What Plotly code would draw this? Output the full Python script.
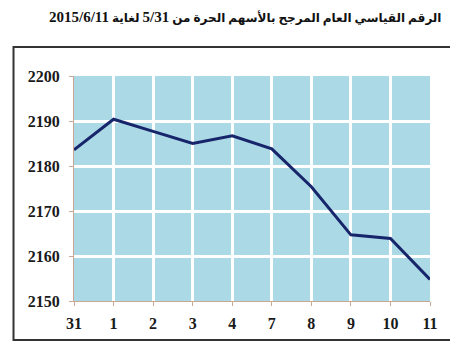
import plotly.graph_objects as go

days = ["31", "1", "2", "3", "4", "7", "8", "9", "10", "11"]
index_values = [2183.6, 2190.4, 2187.7, 2185.0, 2186.7, 2183.8, 2175.4, 2164.7, 2163.9, 2154.8]
y_ticks = [2150, 2160, 2170, 2180, 2190, 2200]
title_part1 = "الرقم القياسي العام المرجح بالأسهم الحرة من"
title_date1 = "5/31"
title_part2 = "لغاية"
title_date2 = "2015/6/11"

W, H = 450, 350
L, R, T, B = 74, 17, 76, 49
pw, ph = W - L - R, H - T - B

def px_x(p):
    return (p - L) / pw

def px_y(p):
    return (H - B - p) / ph

fig = go.Figure()
fig.add_trace(go.Scatter(
    x=days, y=index_values, mode="lines",
    line=dict(color="#17256b", width=3),
    hoverinfo="skip", showlegend=False,
))

tickfont = dict(family="Liberation Serif", size=16, color="#1a1a1a", weight="bold")

big = '<span style="font-size:15px">{}</span>'
title_html = (title_part1 + " " + big.format(title_date1) + " " + title_part2 + " "
              + big.format(title_date2))

fig.update_layout(
    width=W, height=H,
    margin=dict(l=L, r=R, t=T, b=B),
    paper_bgcolor="white",
    plot_bgcolor="#acd9e6",
    xaxis=dict(
        type="category", categoryorder="array", categoryarray=days,
        range=[0, len(days) - 1],
        showgrid=True, gridcolor="white", gridwidth=3,
        showline=True, linecolor="#c9a894", linewidth=1,
        ticks="outside", ticklen=4, tickcolor="#c9a894",
        tickfont=tickfont, ticklabelstandoff=4,
        zeroline=False, fixedrange=True,
    ),
    yaxis=dict(
        range=[2150, 2200], tickvals=y_ticks,
        showgrid=True, gridcolor="white", gridwidth=3,
        showline=True, linecolor="#c9a894", linewidth=1,
        ticks="outside", ticklen=4, tickcolor="#c9a894",
        tickfont=tickfont, ticklabelstandoff=6,
        zeroline=False, fixedrange=True,
    ),
    shapes=[dict(
        type="rect", xref="paper", yref="paper",
        x0=px_x(13), x1=px_x(470), y0=px_y(340), y1=px_y(47),
        line=dict(color="#333333", width=2), fillcolor="rgba(0,0,0,0)",
        layer="above",
    )],
    annotations=[dict(
        text=title_html,
        xref="paper", yref="paper", x=px_x(446), y=px_y(18),
        xanchor="right", yanchor="middle", showarrow=False,
        font=dict(family="Liberation Serif, DejaVu Sans", size=12, color="#111111", weight="bold"),
    )],
)

fig.write_html("out.html")
